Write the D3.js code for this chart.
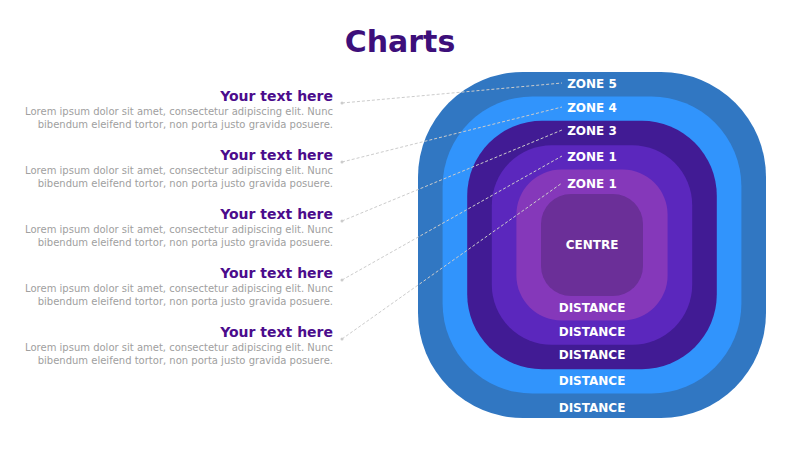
<!DOCTYPE html>
<html><head><meta charset="utf-8">
<script src="https://cdn.jsdelivr.net/npm/d3@7"></script>
<style>body{margin:0;background:#fff}</style></head>
<body><svg id="c" width="800" height="450"></svg>
<script>
const zoneLabels = ["ZONE 5","ZONE 4","ZONE 3","ZONE 1","ZONE 1"];
const ringColors = ["#3177C2","#3194FC","#411B94","#5B27BD","#8538BA","#6B2F98"];
const ringLevels = [0,1,2,3,4,5];
const headings = ["Your text here","Your text here","Your text here","Your text here","Your text here"];
const bodyLine1 = "Lorem ipsum dolor sit amet, consectetur adipiscing elit. Nunc";
const bodyLine2 = "bibendum eleifend tortor, non porta justo gravida posuere.";
const centreLabel = "CENTRE";
const distanceLabel = "DISTANCE";

const svg = d3.select("#c");
const font = "Tahoma, 'DejaVu Sans', Verdana, sans-serif";
svg.append("text").attr("x",400).attr("y",52).attr("text-anchor","middle")
  .attr("font-family",font).attr("font-weight","bold").attr("font-size",30)
  .attr("fill","#3D0F7A").text("Charts");

const cx = 592, cy = 245;
const halfW = d3.scaleLinear().domain([0,5]).range([174,51]);
const halfH = d3.scaleLinear().domain([0,5]).range([173,51]);
const rad = d3.scaleLinear().domain([0,5]).range([105,30]);
svg.selectAll("rect.ring").data(ringLevels).join("rect")
  .attr("x",d=>cx-halfW(d)).attr("y",d=>cy-halfH(d))
  .attr("width",d=>2*halfW(d)).attr("height",d=>2*halfH(d))
  .attr("rx",d=>rad(d)).attr("fill",d=>ringColors[d]);

const zoneY = d3.scaleLinear().domain([0,5]).range([84,208]);
const zy = [84,108,131,157,184];
const dy = [408,381,355,332,308];
const hy = d3.scaleLinear().domain([0,4]).range([96,332]);

// dashed connectors
zoneLabels.forEach((z,i)=>{
  svg.append("line").attr("x1",342).attr("y1",hy(i)+7).attr("x2",562).attr("y2",zy[i]-1)
   .attr("stroke","#ccc").attr("stroke-width",1).attr("stroke-dasharray","3,2");
  svg.append("circle").attr("cx",342).attr("cy",hy(i)+7).attr("r",1.5).attr("fill","#ccc");
});

const lab = (x,y,t)=>svg.append("text").attr("x",x).attr("y",y).attr("text-anchor","middle")
  .attr("dominant-baseline","middle").attr("font-family",font).attr("font-weight","bold")
  .attr("font-size",12).attr("fill","#fff").text(t);
zoneLabels.forEach((z,i)=>lab(592,zy[i],z));
lab(592,245,centreLabel);
dy.forEach(y=>lab(592,y,distanceLabel));

headings.forEach((h,i)=>{
  const y=hy(i);
  svg.append("text").attr("x",333).attr("y",y+5).attr("text-anchor","end")
    .attr("font-family",font).attr("font-weight","bold").attr("font-size",14)
    .attr("fill","#4B0C8C").text(h);
  svg.append("text").attr("x",333).attr("y",y+19).attr("text-anchor","end")
    .attr("font-family",font).attr("font-size",10).attr("fill","#a0a0a0").text(bodyLine1);
  svg.append("text").attr("x",333).attr("y",y+32).attr("text-anchor","end")
    .attr("font-family",font).attr("font-size",10).attr("fill","#a0a0a0").text(bodyLine2);
});
</script></body></html>
